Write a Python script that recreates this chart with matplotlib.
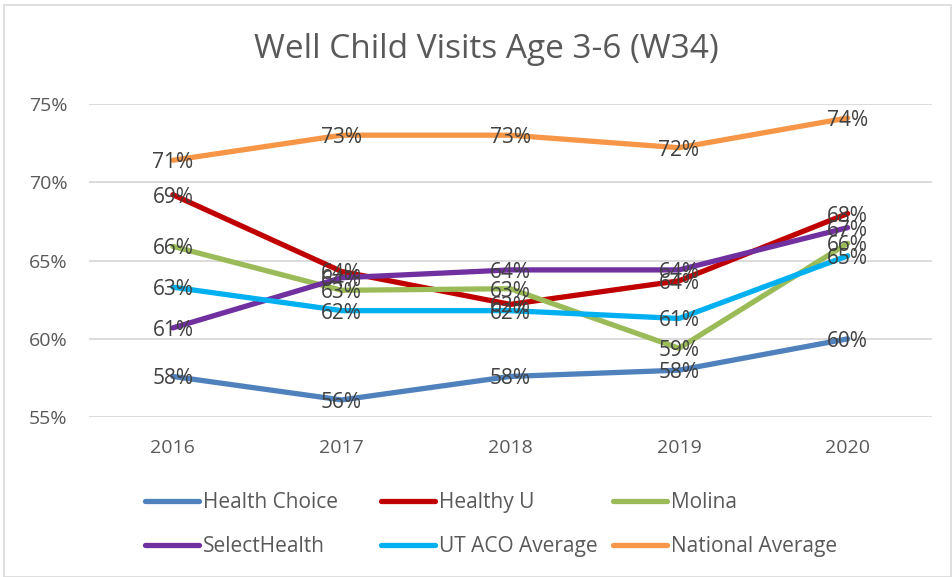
import matplotlib.pyplot as plt
from matplotlib.patches import Rectangle

years = ['2016', '2017', '2018', '2019', '2020']

health_choice = [57.6, 56.1, 57.6, 58.0, 60.0]
healthy_u = [69.2, 64.3, 62.2, 63.7, 68.0]
molina = [65.9, 63.1, 63.2, 59.4, 66.1]
select_health = [60.7, 63.9, 64.4, 64.4, 67.1]
ut_aco_avg = [63.3, 61.8, 61.8, 61.3, 65.3]
national_avg = [71.4, 73.0, 73.0, 72.2, 74.1]

series = [
    ('Health Choice', health_choice, '#4F81BD'),
    ('Healthy U', healthy_u, '#C00000'),
    ('Molina', molina, '#9BBB59'),
    ('SelectHealth', select_health, '#7030A0'),
    ('UT ACO Average', ut_aco_avg, '#00B0F0'),
    ('National Average', national_avg, '#F79646'),
]

plt.rcParams['font.family'] = ['Open Sans', 'DejaVu Sans']
text_gray = '#595959'

fig = plt.figure(figsize=(9.52, 5.77), dpi=100)
ax = fig.add_axes([0.093, 0.277, 0.886, 0.543])

x = list(range(len(years)))
handles = []
for name, vals, color in series:
    h, = ax.plot(x, vals, color=color, lw=3.8, solid_capstyle='round', label=name)
    handles.append(h)

# data labels centred on the points, on top of all lines
for name, vals, color in series:
    for xi, v in zip(x, vals):
        ax.text(xi, v, '%d%%' % round(v), ha='center', va='center_baseline',
                fontsize=15, color='#404040', zorder=10)

ax.set_xlim(-0.5, 4.5)
ax.set_ylim(55, 75)
ax.set_yticks([55, 60, 65, 70, 75])
ax.set_yticklabels(['55%', '60%', '65%', '70%', '75%'])
ax.set_xticks(x)
ax.set_xticklabels(years)
ax.tick_params(length=0, labelsize=14, colors=text_gray)
ax.tick_params(axis='x', pad=16)
ax.tick_params(axis='y', pad=15)
ax.grid(axis='y', color='#D9D9D9', lw=1.3)
ax.set_axisbelow(True)
for s in ax.spines.values():
    s.set_visible(False)

fig.text(0.511, 0.915, 'Well Child Visits Age 3-6 (W34)', ha='center', va='center',
         fontsize=24, color=text_gray)

# legend: three fixed-width columns, two rows each
col_x = [0.152, 0.400, 0.644]
for c in range(3):
    idx = [c, c + 3]
    leg = fig.legend([handles[i] for i in idx], [series[i][0] for i in idx],
                     loc='center left', bbox_to_anchor=(col_x[c], 0.091),
                     frameon=False, fontsize=15, handlelength=2.6,
                     handletextpad=0.2, labelspacing=1.1, borderpad=0,
                     borderaxespad=0)
    for t in leg.get_texts():
        t.set_color(text_gray)

fig.patches.append(Rectangle((0.004, 0.0), 0.995, 0.991, transform=fig.transFigure,
                             fill=False, edgecolor='#D9D9D9', lw=1.2))

fig.savefig('out.png', dpi=100)
